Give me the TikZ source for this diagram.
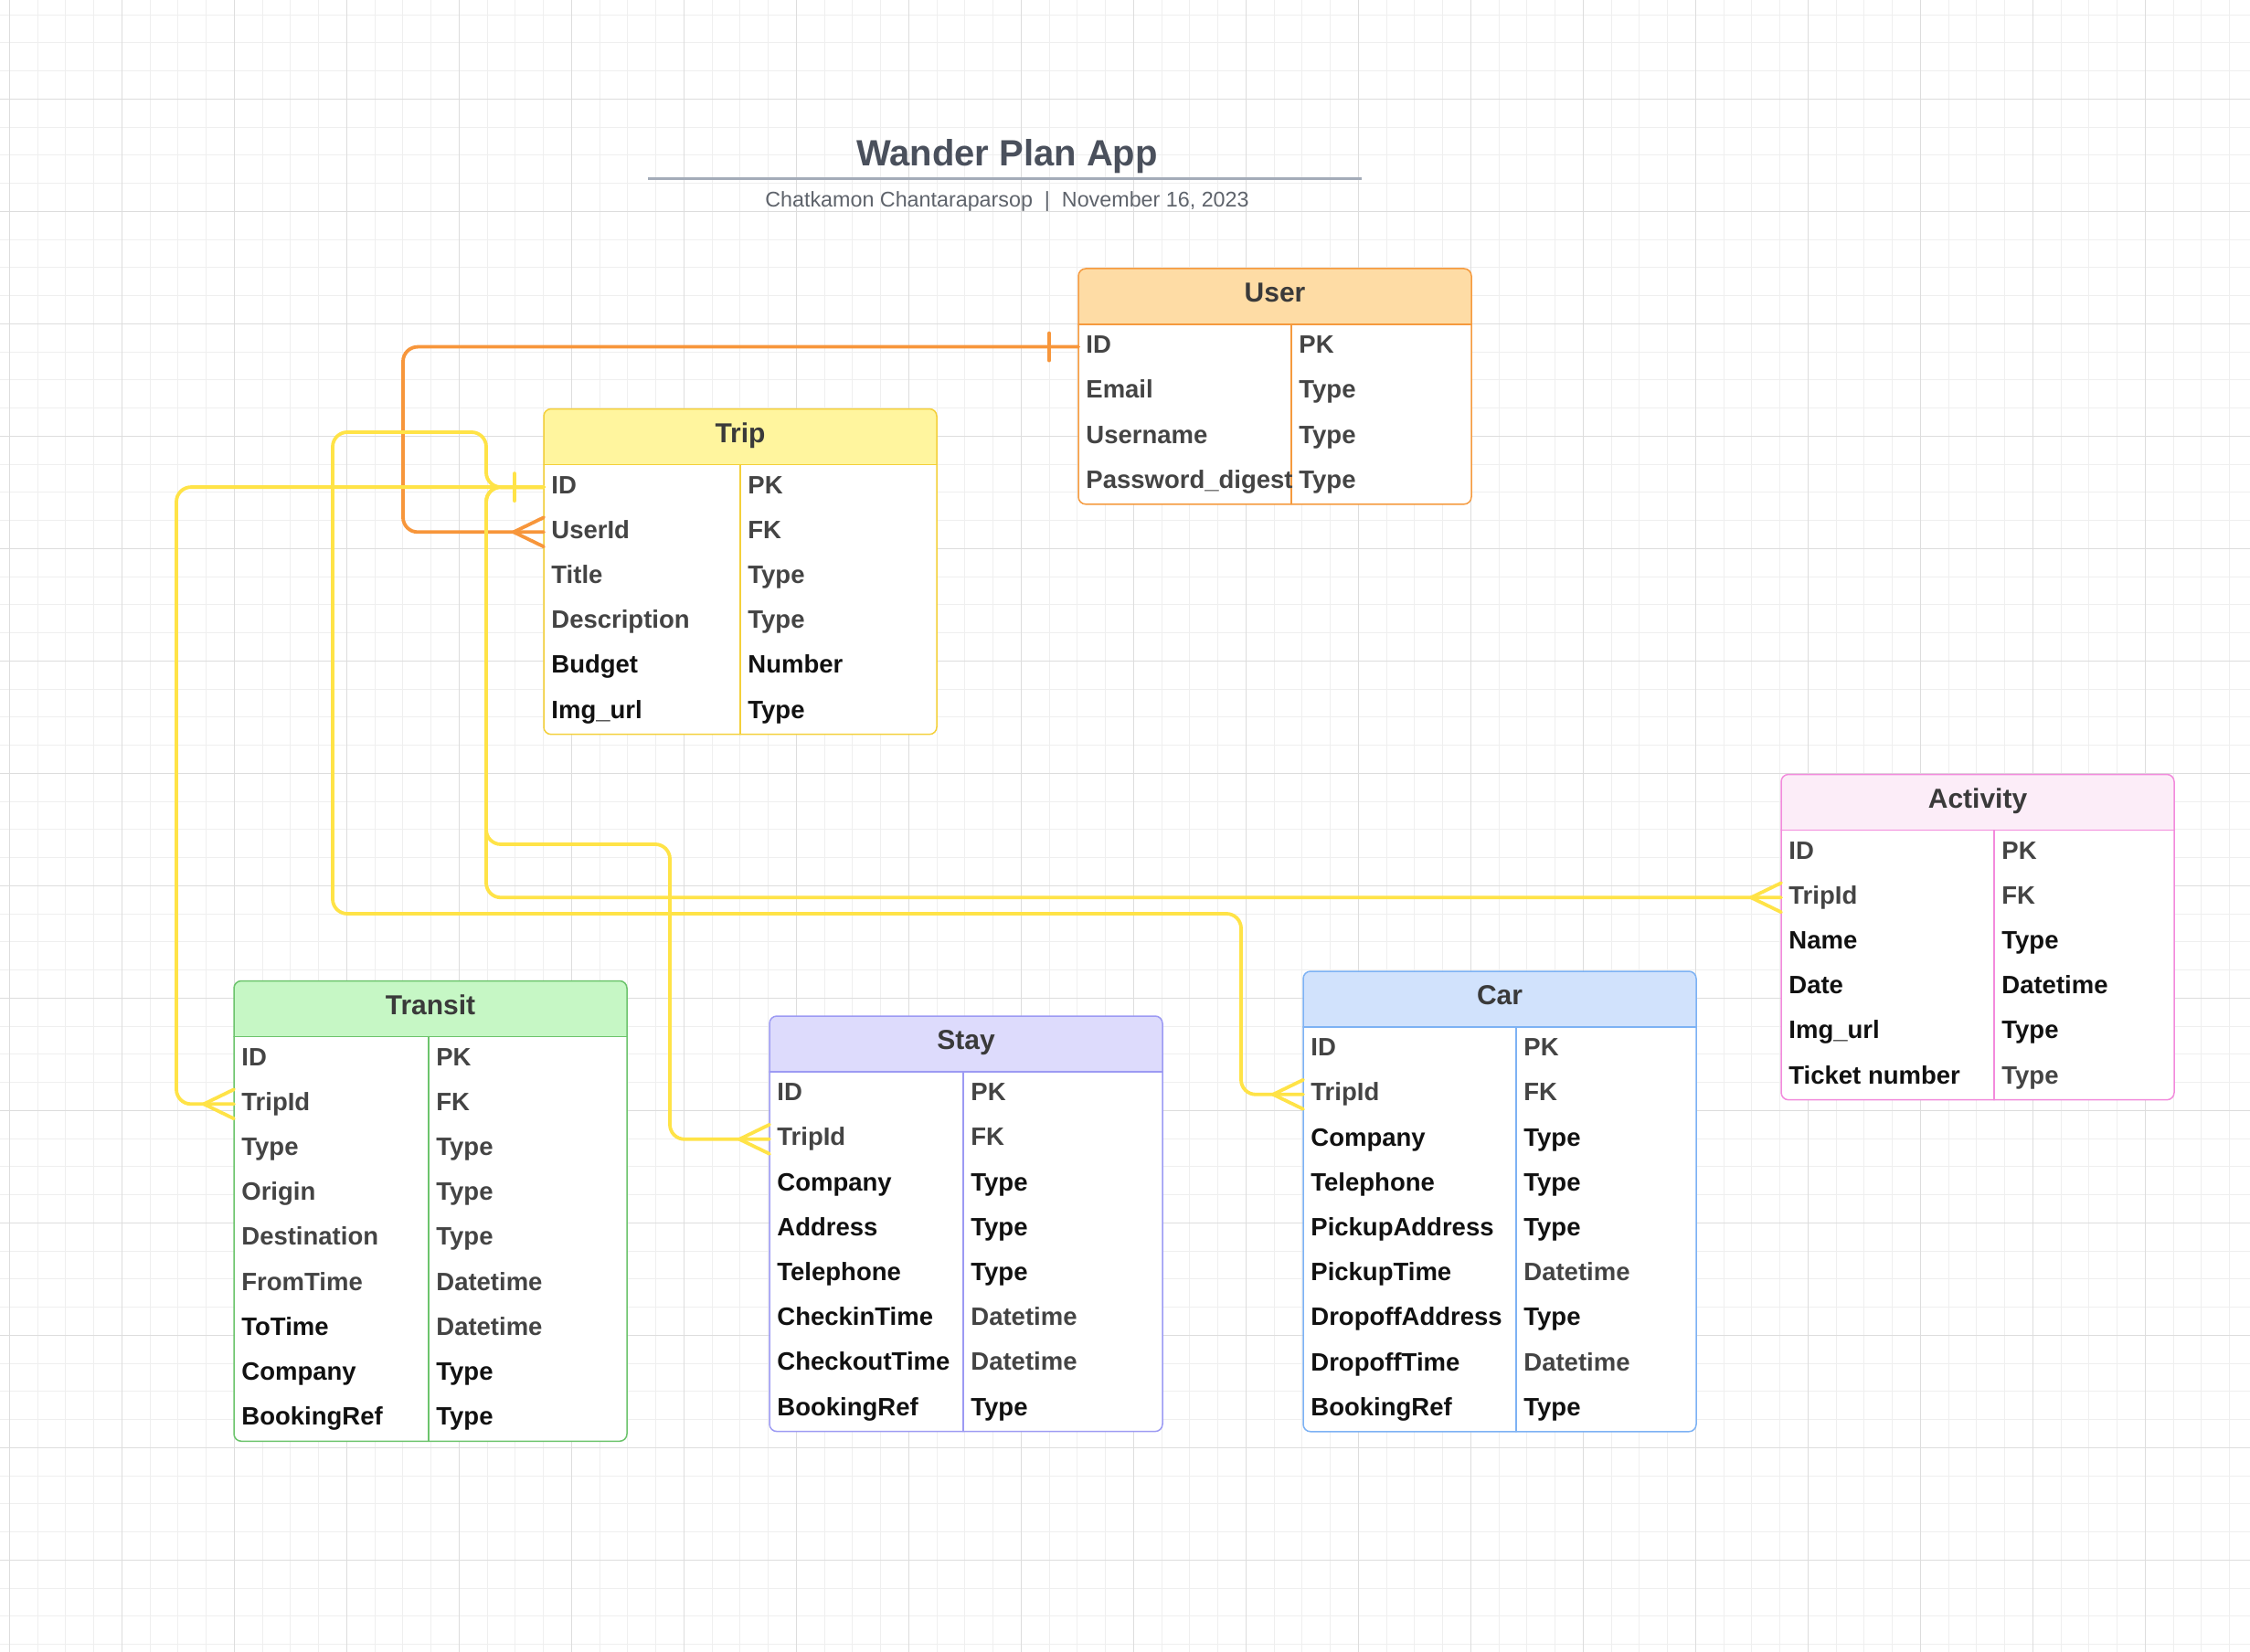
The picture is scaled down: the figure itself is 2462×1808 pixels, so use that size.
\documentclass[tikz,border=0pt]{standalone}
\usepackage{fontspec}
\setmainfont{Liberation Sans}
\usepackage{xcolor}
\usepackage{tikz}
\usetikzlibrary{calc}
\definecolor{gridfaint}{HTML}{EFEFEF}
\definecolor{gridstrong}{HTML}{DDDDDD}
\definecolor{slate}{HTML}{4A505C}
\definecolor{rulegrey}{HTML}{A4ACB9}
\definecolor{bylinegrey}{HTML}{5E636B}
\definecolor{headink}{HTML}{3A3A3A}
\definecolor{inkg}{HTML}{444444}
\definecolor{inkk}{HTML}{111111}
\definecolor{userline}{HTML}{F59A3E}
\definecolor{userfill}{HTML}{FEDCA5}
\definecolor{tripline}{HTML}{F4D03A}
\definecolor{tripfill}{HTML}{FFF59E}
\definecolor{actline}{HTML}{F28BDC}
\definecolor{actfill}{HTML}{FCEDF8}
\definecolor{transitline}{HTML}{6CC46C}
\definecolor{transitfill}{HTML}{C6F7C5}
\definecolor{stayline}{HTML}{9C9AF3}
\definecolor{stayfill}{HTML}{DDDBFC}
\definecolor{carline}{HTML}{7DB2F4}
\definecolor{carfill}{HTML}{D1E2FC}
\definecolor{linkorange}{HTML}{F7963B}
\definecolor{linkyellow}{HTML}{FFE347}
\tikzset{
    every picture/.style={line cap=round,line join=round},
    gridminor/.style={draw=gridfaint,line width=0.5pt},
    gridmajor/.style={draw=gridstrong,line width=0.5pt},
    tablebox/.style={draw=#1,fill=white,line width=0.75pt,rounded corners=4pt,
      minimum width=215pt,inner sep=0pt,outer sep=0pt,anchor=north west},
    tabletitle/.style={anchor=base,inner sep=0pt,text=headink,
      font=\bfseries\fontsize{15}{18}\selectfont},
    fieldtext/.style={anchor=base west,inner sep=0pt,
      font=\bfseries\fontsize{13.75}{16}\selectfont},
    reflink/.style={draw=#1,line width=1.9pt,rounded corners=8pt}
}
% name, position, title, line, fill, column, row height, rows, fields
\newcommand{\ertable}[9]{%
  \node[tablebox=#4,minimum height=30.5pt+#8*#7,
    path picture={\fill[#5,sharp corners] (path picture bounding box.north west)
      rectangle ([yshift=-30.5pt]path picture bounding box.north east);}] (#1) at (#2) {};
  \node[tabletitle] (#1-title) at ([yshift=-18.25pt]#1.north) {#3};
  \draw[#4,line width=0.75pt] ([yshift=-30.5pt]#1.north west) -- ([yshift=-30.5pt]#1.north east);
  \draw[#4,line width=0.75pt] ([shift={(#6,-30.5pt)}]#1.north west) -- ([xshift=#6]#1.south west);
  \foreach \fname/\fc/\ftype/\tc [count=\i] in {#9}{
    \coordinate (#1-\i) at ([yshift={-30.5pt-(\i-0.5)*#7}]#1.north west);
    \node[fieldtext,text=\fc] (#1-\i-name) at ([shift={(4pt,-3.5pt)}]#1-\i) {\fname};
    \node[fieldtext,text=\tc] (#1-\i-type) at ([shift={(#6+4pt,-3.5pt)}]#1-\i) {\ftype};
  }%
}
\newcommand{\manyend}[2]{\draw[reflink=#2] ([xshift=-16.5pt]#1) -- ([yshift=8pt]#1)
  ([xshift=-16.5pt]#1) -- ([yshift=-8pt]#1);}
\newcommand{\oneend}[2]{\draw[reflink=#2] ([shift={(-16pt,7.5pt)}]#1) -- ([shift={(-16pt,-7.5pt)}]#1);}

\begin{document}
\begin{tikzpicture}[x=0.5pt,y=-0.5pt]
  \fill[white] (0,0) rectangle (2462,1808);
  \useasboundingbox (0,0) rectangle (2462,1808);
  \foreach \k in {0,...,79} \draw[gridminor] ({10.3+30.75*\k},0) -- ++(0,1808);
  \foreach \k in {0,...,58} \draw[gridminor] (0,{16.05+30.75*\k}) -- ++(2462,0);
  \foreach \k in {0,...,19} \draw[gridmajor] ({10.3+123*\k},0) -- ++(0,1808);
  \foreach \k in {0,...,13} \draw[gridmajor] (0,{108.3+123*\k}) -- ++(2462,0);

  \node[anchor=base,inner sep=0pt,text=slate,font=\bfseries\fontsize{20}{24}\selectfont] (title) at (1102,182) {Wander Plan App};
  \draw[rulegrey,line width=1.5pt,line cap=butt] (709,196) -- (1490,196);
  \node[anchor=base,inner sep=0pt,text=bylinegrey,font=\fontsize{11.65}{14}\selectfont] (byline) at (1102,227) {Chatkamon Chantaraparsop\ \ |\ \ November 16, 2023};

  \ertable{user}{1180,294}{User}{userline}{userfill}{116.5pt}{24.6pt}{4}{ID/inkg/PK/inkg,
    Email/inkg/Type/inkg, Username/inkg/Type/inkg, Password\_digest/inkg/Type/inkg}
  \ertable{trip}{595,447.5}{Trip}{tripline}{tripfill}{107.5pt}{24.6pt}{6}{ID/inkg/PK/inkg,
    UserId/inkg/FK/inkg, Title/inkg/Type/inkg, Description/inkg/Type/inkg,
    Budget/inkk/Number/inkk, Img\_url/inkk/Type/inkk}
  \ertable{activity}{1949,847.5}{Activity}{actline}{actfill}{116.5pt}{24.6pt}{6}{ID/inkg/PK/inkg,
    TripId/inkg/FK/inkg, Name/inkk/Type/inkk, Date/inkk/Datetime/inkk,
    Img\_url/inkk/Type/inkk, Ticket number/inkk/Type/inkg}
  \ertable{transit}{256,1073.5}{Transit}{transitline}{transitfill}{106.5pt}{24.6pt}{9}{ID/inkg/PK/inkg,
    TripId/inkg/FK/inkg, Type/inkg/Type/inkg, Origin/inkg/Type/inkg,
    Destination/inkg/Type/inkg, FromTime/inkg/Datetime/inkg, ToTime/inkk/Datetime/inkg,
    Company/inkk/Type/inkk, BookingRef/inkk/Type/inkk}
  \ertable{stay}{842,1112}{Stay}{stayline}{stayfill}{106pt}{24.6pt}{8}{ID/inkg/PK/inkg,
    TripId/inkg/FK/inkg, Company/inkk/Type/inkk, Address/inkk/Type/inkk,
    Telephone/inkk/Type/inkk, CheckinTime/inkk/Datetime/inkg,
    CheckoutTime/inkk/Datetime/inkg, BookingRef/inkk/Type/inkk}
  \ertable{car}{1426,1063}{Car}{carline}{carfill}{116.5pt}{24.6pt}{9}{ID/inkg/PK/inkg,
    TripId/inkg/FK/inkg, Company/inkk/Type/inkk, Telephone/inkk/Type/inkk,
    PickupAddress/inkk/Type/inkk, PickupTime/inkk/Datetime/inkg,
    DropoffAddress/inkk/Type/inkk, DropoffTime/inkk/Datetime/inkg, BookingRef/inkk/Type/inkk}

  \coordinate (ownerx) at (441,0);
  \coordinate (transitx) at (193,0);
  \coordinate (tripx) at (532,0);
  \coordinate (stayx) at (733,0);
  \coordinate (carx) at (1358,0);
  \coordinate (staybend) at (532,924);
  \coordinate (carbend) at (532,473);
  \coordinate (carturn) at (364,1000);

  \draw[reflink=linkorange] (user-1) -| (ownerx |- trip-2) -- (trip-2);
  \draw[reflink=linkyellow] (trip-1) -| (transitx |- transit-2) -- (transit-2);
  \draw[reflink=linkyellow] (trip-1) -| (tripx |- activity-2) -- (activity-2);
  \draw[reflink=linkyellow] (trip-1) -| (staybend) -| (stayx |- stay-2) -- (stay-2);
  \draw[reflink=linkyellow] (trip-1) -| (carbend) -| (carturn) -| (carx |- car-2) -- (car-2);

  \oneend{user-1}{linkorange}
  \manyend{trip-2}{linkorange}
  \oneend{trip-1}{linkyellow}
  \manyend{transit-2}{linkyellow}
  \manyend{activity-2}{linkyellow}
  \manyend{stay-2}{linkyellow}
  \manyend{car-2}{linkyellow}
\end{tikzpicture}
\end{document}
